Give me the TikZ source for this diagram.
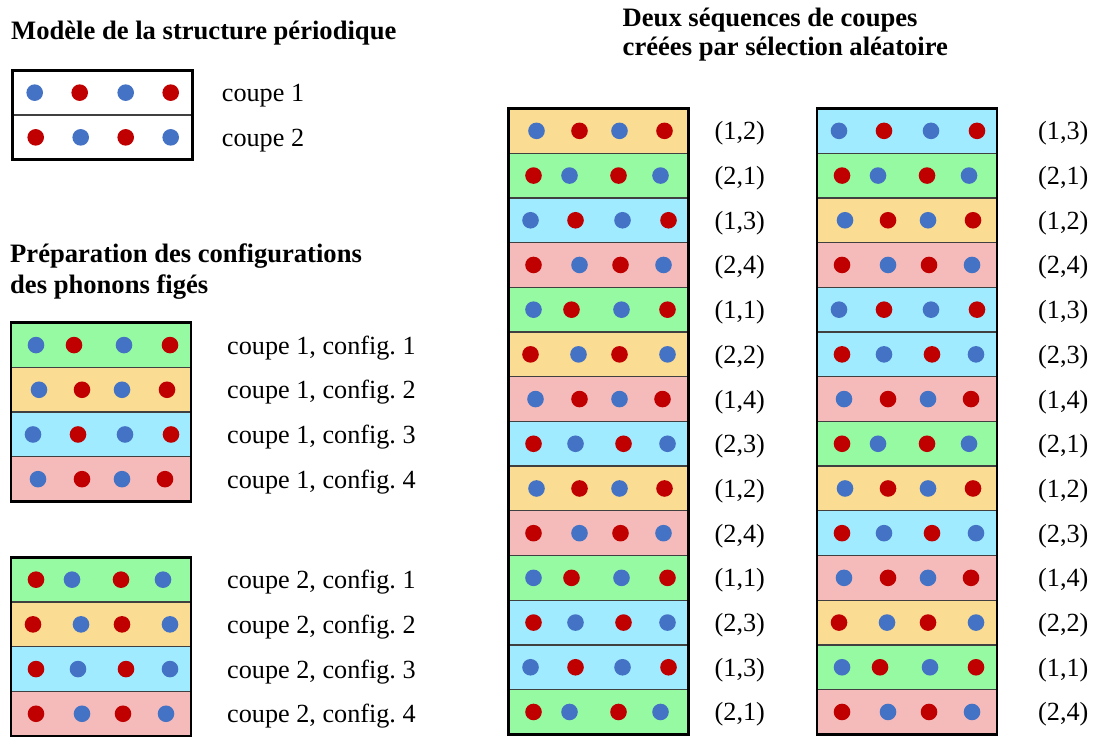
\documentclass[tikz,border=0pt]{standalone}
\usepackage{fontspec}
\setmainfont{Liberation Serif}
\usetikzlibrary{positioning}

\definecolor{bleu}{RGB}{68,114,196}
\definecolor{rouge}{RGB}{192,0,0}
\definecolor{sep}{RGB}{64,64,64}
\definecolor{cfg0}{RGB}{255,255,255}
\definecolor{cfg1}{RGB}{150,250,162}
\definecolor{cfg2}{RGB}{250,220,146}
\definecolor{cfg3}{RGB}{160,235,255}
\definecolor{cfg4}{RGB}{245,187,187}

\tikzset{
  rangee/.style={draw=sep, line width=1.3pt, minimum width=180pt, minimum height=44.7pt,
    inner sep=0pt, outer sep=0pt, anchor=north west},
  cadre/.style={draw=black, line width=2.6pt},
  etiquette/.style={inner sep=0pt, anchor=base west, font=\fontsize{26.2}{30}\selectfont},
  titre/.style={inner sep=0pt, anchor=base west, font=\fontsize{26.6}{30}\selectfont\bfseries},
}

% atom positions for each coupe-config
\expandafter\def\csname pos1-0\endcsname{22/bleu,67/rouge,113/bleu,158/rouge}
\expandafter\def\csname pos2-0\endcsname{23/rouge,68/bleu,113/rouge,158/bleu}
\expandafter\def\csname pos1-1\endcsname{25/bleu,63/rouge,113/bleu,159/rouge}
\expandafter\def\csname pos1-2\endcsname{28/bleu,71/rouge,111/bleu,156/rouge}
\expandafter\def\csname pos1-3\endcsname{22/bleu,67/rouge,114/bleu,160/rouge}
\expandafter\def\csname pos1-4\endcsname{27/bleu,71/rouge,111/bleu,154/rouge}
\expandafter\def\csname pos2-1\endcsname{25/rouge,61/bleu,110/rouge,152/bleu}
\expandafter\def\csname pos2-2\endcsname{22/rouge,70/bleu,111/rouge,159/bleu}
\expandafter\def\csname pos2-3\endcsname{25/rouge,67/bleu,115/rouge,159/bleu}
\expandafter\def\csname pos2-4\endcsname{25/rouge,71/bleu,112/rouge,155/bleu}

% #1 name, #2 x, #3 y (top), #4 coupe, #5 config
\newcommand{\coupe}[5]{%
  \node[rangee, fill=cfg#5] (#1) at ({#2},{#3}) {};
  \expandafter\let\expandafter\poslist\csname pos#4-#5\endcsname
  \foreach \dx/\col in \poslist
    \fill[\col] ({#2+\dx},{#3+22.35}) circle[radius=8.3];
}

\begin{document}
\begin{tikzpicture}[x=1pt,y=-1pt]
\useasboundingbox (0,0) rectangle (1094,736);

\node[titre] (t1) at (11,39) {Modèle de la structure périodique};
\node[titre] (t2a) at (10,262.5) {Préparation des configurations};
\node[titre] (t2b) at (10,293) {des phonons figés};
\node[titre] (t3a) at (622.5,27) {Deux séquences de coupes};
\node[titre] (t3b) at (622.5,55) {créées par sélection aléatoire};

% periodic model
\coupe{m1}{12.7}{70.3}{1}{0}
\coupe{m2}{12.7}{115}{2}{0}
\draw[cadre] (m1.north west) rectangle (m2.south east);
\node[etiquette] (lm1) at ([xshift=29pt,yshift=-9pt]m1.east) {coupe 1};
\node[etiquette] (lm2) at ([xshift=29pt,yshift=-9pt]m2.east) {coupe 2};

% frozen phonon configurations
\foreach \cp/\ytop/\blk in {1/322.7/a,2/557.3/b} {
  \foreach \k in {1,...,4} {
    \coupe{\blk\k}{11}{\ytop+44.7*(\k-1)}{\cp}{\k}
    \node[etiquette] (l\blk\k) at ([xshift=36pt,yshift=-9pt]\blk\k.east) {coupe \cp, config.~\k};
  }
  \draw[cadre] (\blk1.north west) rectangle (\blk4.south east);
}

% random sequences
\foreach \cp/\cf [count=\i] in {1/2,2/1,1/3,2/4,1/1,2/2,1/4,2/3,1/2,2/4,1/1,2/3,1/3,2/1} {
  \coupe{s\i}{508.5}{108.5+44.7*(\i-1)}{\cp}{\cf}
  \node[etiquette] (ls\i) at ([xshift=26pt,yshift=-9pt]s\i.east) {(\cp,\cf)};
}
\draw[cadre] (s1.north west) rectangle (s14.south east);

\foreach \cp/\cf [count=\i] in {1/3,2/1,1/2,2/4,1/3,2/3,1/4,2/1,1/2,2/3,1/4,2/2,1/1,2/4} {
  \coupe{r\i}{817}{108.5+44.7*(\i-1)}{\cp}{\cf}
  \node[etiquette] (lr\i) at ([xshift=41pt,yshift=-9pt]r\i.east) {(\cp,\cf)};
}
\draw[cadre] (r1.north west) rectangle (r14.south east);

\end{tikzpicture}
\end{document}
